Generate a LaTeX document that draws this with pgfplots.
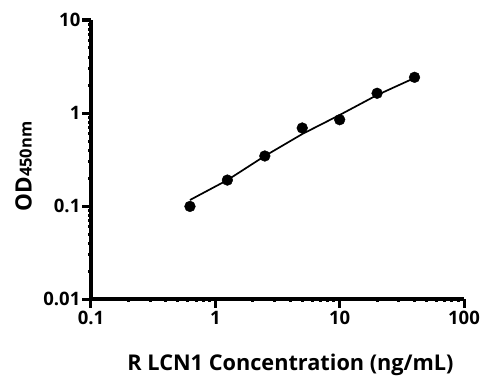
\documentclass[border=0pt]{standalone}
\usepackage{pgfplots}
\pgfplotsset{compat=1.18}
\usepackage{fontspec}
\setmainfont{Open Sans}
\begin{document}
\begin{tikzpicture}
\begin{axis}[
  name=ax,
  width=373bp, height=279bp, scale only axis,
  xmode=log, ymode=log,
  xmin=0.1, xmax=100, ymin=0.01, ymax=10,
  axis x line*=bottom, axis y line*=left,
  axis line style={line width=3.2bp, -},
  every tick/.style={line width=3bp, black},
  major tick length=9bp, minor tick num=0,
  tick align=outside,
  xtick={0.1,1,10,100}, ytick={0.01,0.1,1,10},
  xticklabels={0.1,1,10,100}, yticklabels={0.01,0.1,1,10},
  /pgf/number format/assume math mode=true,
  tick label style={font=\fontsize{18.5bp}{20bp}\selectfont\bfseries},
  yticklabel style={inner sep=1.5bp},
  xticklabel style={inner sep=3bp},
  xlabel={R LCN1 Concentration (ng/mL)},
  ylabel={OD{\fontsize{16.5bp}{16bp}\selectfont 450nm}},
  xlabel style={at={(axis description cs:0.535,-0.237)}, anchor=center, font=\fontsize{21.7bp}{24bp}\selectfont\bfseries},
  ylabel style={at={(axis description cs:-0.181,0.475)}, anchor=center, font=\fontsize{22.5bp}{24bp}\selectfont\bfseries},
  clip=false,
]
\addplot[black, line width=1.7bp, no markers] coordinates {
  (0.625,0.116) (1.25,0.19) (2.5,0.345) (5,0.594) (10,0.952) (20,1.56) (40,2.38)
};
\addplot[only marks, mark=*, mark size=5.4bp, black] coordinates {
  (0.625,0.099) (1.25,0.19) (2.5,0.345) (5,0.69) (10,0.847) (20,1.63) (40,2.42)
};
\end{axis}
\path ([xshift=-91bp,yshift=-92bp]ax.south west) rectangle ([xshift=29bp,yshift=20bp]ax.north east);
\end{tikzpicture}
\end{document}
